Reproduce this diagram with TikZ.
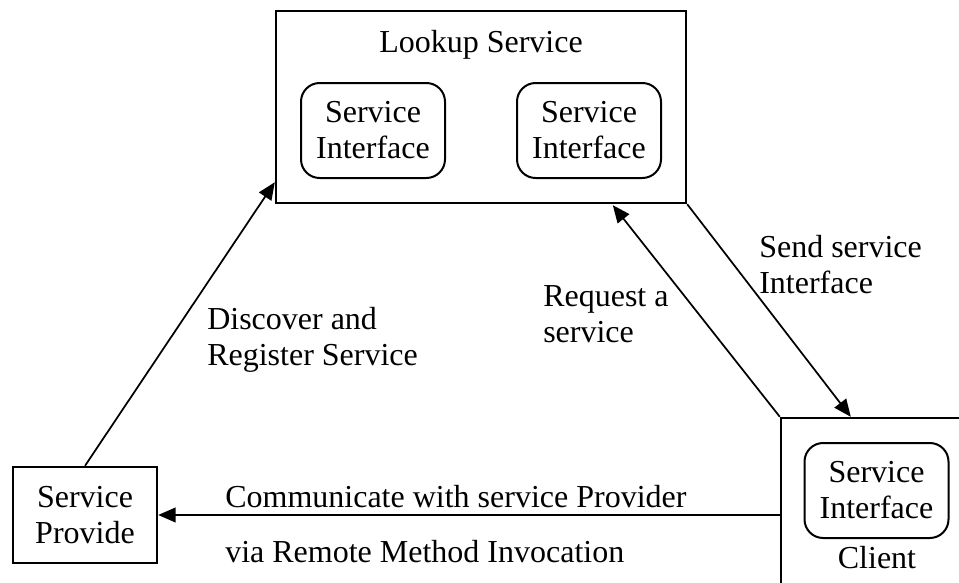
\documentclass[tikz,border=0pt]{standalone}
\usepackage{fontspec}
\setmainfont{Liberation Serif}
\usetikzlibrary{arrows.meta,calc}
\tikzset{
  box/.style={draw, line width=1.8pt, inner sep=0pt},
  ibox/.style={draw, line width=1.5pt, rounded corners=14pt, inner sep=0pt,
    minimum width=108pt, minimum height=71.25pt, align=center},
  lbl/.style={inner sep=0pt, anchor=base west, align=left},
  conn/.style={line width=1.3pt, -{Triangle[length=13pt,width=11pt]}}
}
\begin{document}
\begin{tikzpicture}[x=0.75pt,y=-0.75pt,
  every node/.append style={font=\fontsize{24pt}{27pt}\selectfont}]
\clip (0,0) rectangle (959,582);
\fill[white] (0,0) rectangle (959,582);
% Lookup service
\node[box, minimum width=307.5pt, minimum height=144pt] (lookup) at (481,107) {};
\node[inner sep=0pt, anchor=base] (lstitle) at (481,52) {Lookup Service};
\node[ibox] (si1) at (373,130.5) {Service\\Interface};
\node[ibox] (si2) at (589,130.5) {Service\\Interface};
% Service provider
\node[box, minimum width=108pt, minimum height=72pt, align=center] (sp) at (85,515) {Service\\Provide};
% Client
\node[box, minimum width=225pt, minimum height=187.5pt] (client) at (931,543) {};
\node[ibox] (si3) at (876.5,490.5) {Service\\Interface};
\node[inner sep=0pt, anchor=base] (cl) at (877,568) {Client};
% connectors
\draw[conn] (sp.north) -- ($(lookup.south west)+(0,-22)$);
\draw[conn] (client.north west) -- ($(lookup.south west)+(338,1)$);
\draw[conn] (lookup.south east) -- ($(client.north west)+(71,0)$);
\draw[conn] (sp.east -| client.west) -- (sp.east);
% labels (base anchor = baseline of last line)
\node[lbl] (ldisc) at (207,365) {Discover and\\Register Service};
\node[lbl] (lreq) at (543,342) {Request a\\service};
\node[lbl] (lsend) at (759,293) {Send service\\Interface};
\node[lbl] (lcomm) at (225,507) {Communicate with service Provider};
\node[lbl] (lvia) at (225,562) {via Remote Method Invocation};
\end{tikzpicture}
\end{document}
